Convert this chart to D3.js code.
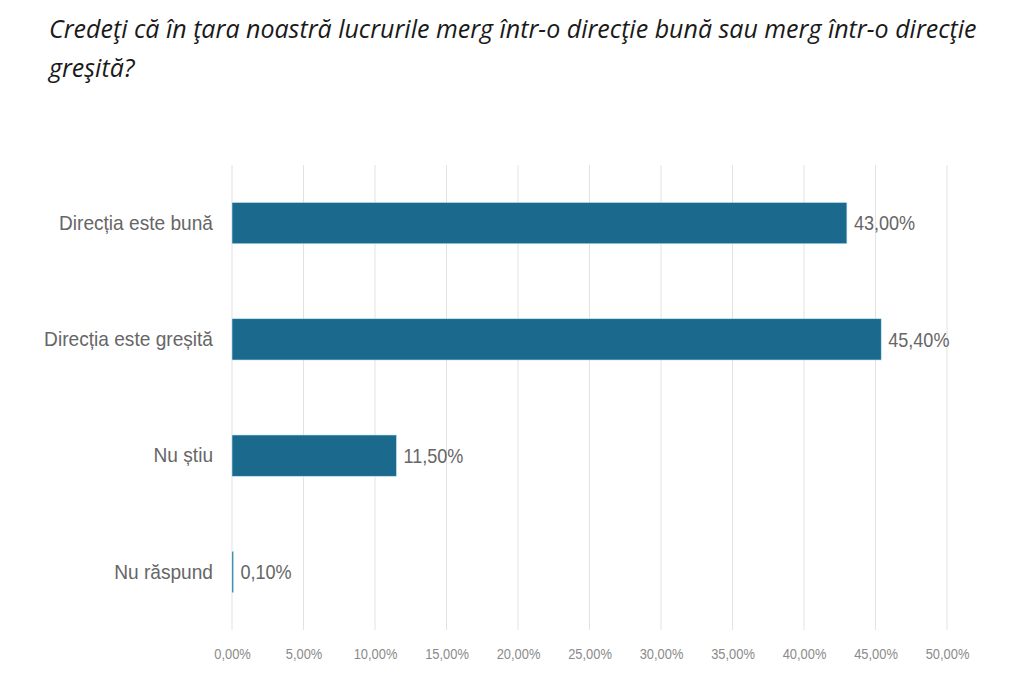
<!DOCTYPE html>
<html>
<head>
<meta charset="utf-8">
<script src="https://cdn.jsdelivr.net/npm/d3@7"></script>
<style>
  body { margin: 0; background: #fff; }
</style>
</head>
<body>
<svg id="chart"></svg>
<script>
// data
const categories = ['Direcția este bună', 'Direcția este greșită', 'Nu știu', 'Nu răspund'];
const values = [43.0, 45.4, 11.5, 0.1];
const tickValues = [0, 5, 10, 15, 20, 25, 30, 35, 40, 45, 50];
const titleLines = [
  'Credeţi că în ţara noastră lucrurile merg într-o direcţie bună sau merg într-o direcţie',
  'greşită?'
];

const fmt = v => d3.format('.2f')(v).replace('.', ',') + '%';

// squeeze text horizontally (the reference font is narrower than ours)
function squeeze(sel, k) {
  sel.each(function() {
    let len = this.getComputedTextLength();
    d3.select(this)
      .attr('textLength', len * k)
      .attr('lengthAdjust', 'spacingAndGlyphs');
  });
}

let margin = {top: 165, right: 77, bottom: 53, left: 232},
    W = 1024, H = 683,
    width = W - margin.left - margin.right,
    height = H - margin.top - margin.bottom;

let svg = d3.select('#chart').attr('width', W).attr('height', H);

// title
svg.append('g').selectAll('text')
  .data(titleLines)
  .enter().append('text')
  .attr('x', 49)
  .attr('y', (d, i) => 38 + i * 39)
  .attr('font-family', 'Open Sans, sans-serif')
  .attr('font-style', 'italic')
  .attr('font-size', '25px')
  .attr('fill', '#1a1a1a')
  .text(d => d);

let g = svg.append('g')
  .attr('transform', 'translate(' + margin.left + ',' + margin.top + ')');

let x = d3.scaleLinear().domain([0, 50]).range([0, width]);
let y = d3.scaleBand().domain(categories).range([0, height])
  .paddingInner(0.645).paddingOuter(0.3225);

// grid lines
g.append('g').selectAll('line')
  .data(tickValues)
  .enter().append('line')
  .attr('x1', d => x(d)).attr('x2', d => x(d))
  .attr('y1', 0).attr('y2', height)
  .attr('stroke', '#e2e2e2')
  .attr('stroke-width', 1);

// x axis labels
let xAxis = g.append('g')
  .attr('transform', 'translate(0,' + height + ')')
  .call(d3.axisBottom(x).tickValues(tickValues).tickSize(0).tickPadding(19).tickFormat(fmt));
xAxis.select('.domain').remove();
xAxis.selectAll('text')
  .attr('font-family', 'Liberation Sans, Arial, sans-serif')
  .attr('font-size', '14px')
  .attr('fill', '#8a8a8a')
  .call(squeeze, 0.92);

// y axis labels
let yAxis = g.append('g')
  .call(d3.axisLeft(y).tickSize(0).tickPadding(19));
yAxis.select('.domain').remove();
yAxis.selectAll('text')
  .attr('font-family', 'Liberation Sans, Arial, sans-serif')
  .attr('font-size', '21px')
  .attr('fill', '#666')
  .call(squeeze, 0.91);

// bars
g.selectAll('rect.bar')
  .data(values)
  .enter().append('rect')
  .attr('class', 'bar')
  .attr('x', x(0))
  .attr('y', (d, i) => y(categories[i]))
  .attr('width', d => Math.max(x(d) - x(0), 1.5))
  .attr('height', y.bandwidth())
  .attr('fill', '#1b6a8d')
  .attr('stroke', '#bfe6f2')
  .attr('stroke-width', 0.6);

// value labels
g.selectAll('text.val')
  .data(values)
  .enter().append('text')
  .attr('class', 'val')
  .attr('x', d => x(d) + 7)
  .attr('y', (d, i) => y(categories[i]) + y.bandwidth() / 2)
  .attr('dy', '0.35em')
  .attr('font-family', 'Liberation Sans, Arial, sans-serif')
  .attr('font-size', '21px')
  .attr('fill', '#666')
  .text(d => fmt(d))
  .call(squeeze, 0.86);
</script>
</body>
</html>
